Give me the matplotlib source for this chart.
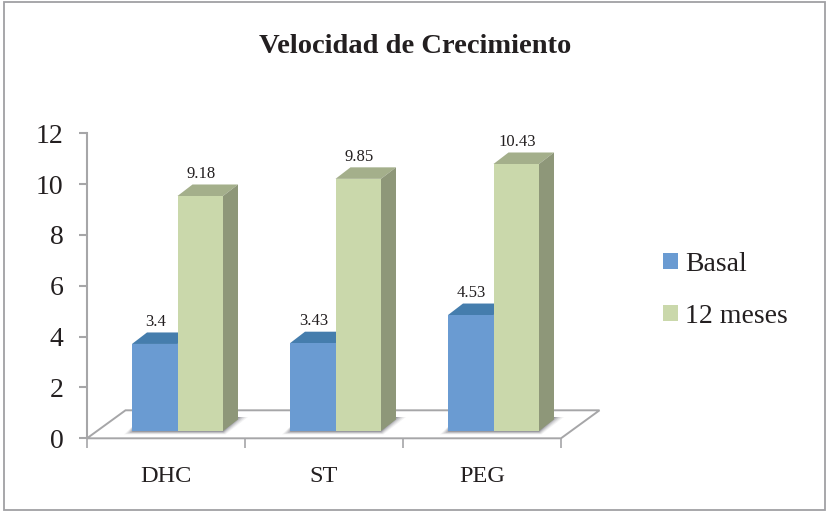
"""Velocidad de Crecimiento: fake-3D grouped columns drawn on a flat axes."""

import matplotlib

matplotlib.use("Agg")
import matplotlib.pyplot as plt
from matplotlib.patches import Patch, Polygon, Rectangle

categories = ["DHC", "ST", "PEG"]
basal = [3.4, 3.43, 4.53]
meses_12 = [9.18, 9.85, 10.43]
series_names = ["Basal", "12 meses"]
y_ticks = [0, 2, 4, 6, 8, 10, 12]

W, H = 826, 511
# pixel layout of the plot box
LEFT, RIGHT, TOP, BOTTOM = 87, 561, 133.3, 438.3
PX_X = (RIGHT - LEFT) / 3
PX_Y = (BOTTOM - TOP) / 12

BLUE, BLUE_TOP = "#6A9BD2", "#457DAD"
GREEN, GREEN_TOP, GREEN_SIDE = "#CAD8AB", "#A4AF8B", "#8E9779"
GRAY = "#A6A6A8"
TEXT = "#231F20"

plt.rcParams["font.family"] = ["Liberation Serif", "DejaVu Serif"]

fig = plt.figure(figsize=(W / 100, H / 100), dpi=100)
ax = fig.add_axes([LEFT / W, 1 - BOTTOM / H, (RIGHT - LEFT) / W, (BOTTOM - TOP) / H])
ax.set_xlim(0, 3)
ax.set_ylim(0, 12)
ax.patch.set_visible(False)

# depth offsets, in data units
floor_dx, floor_dy = 38.5 / PX_X, 28 / PX_Y
bar_dx, bar_dy = 15 / PX_X, 11.5 / PX_Y
bar_w = 45.5 / PX_X
bar_base = 7.3 / PX_Y
bar_shift = 11.5 / PX_X
bar_scale = 25.6 / PX_Y

# chart frame
fig.add_artist(Rectangle((4 / W, 1 - 510 / H), 821.3 / W, 508 / H, transform=fig.transFigure,
                         fill=False, edgecolor="#A0A0A4", linewidth=1.3))

# floor
ax.add_patch(Polygon([(0, 0), (3, 0), (3 + floor_dx, floor_dy), (floor_dx, floor_dy)],
                     closed=True, facecolor="white", edgecolor=GRAY, linewidth=1.4,
                     clip_on=False, zorder=1))


def draw_shadow(x0):
    # soft shadow on the floor, stacked translucent layers
    x1 = x0 + 2 * bar_w
    for grow, alpha in [(8, 0.07), (6, 0.10), (4, 0.14), (2, 0.20), (0, 0.28)]:
        g = grow / PX_X
        low = bar_base - (1 + grow * 0.3) / PX_Y
        pts = [(x0 - g, low), (x1 + g * 0.3, low),
               (x1 + (17 + grow) / PX_X, bar_base + 14 / PX_Y),
               (x1 + 12 / PX_X, bar_base + 14 / PX_Y), (x0 + 2 / PX_X, bar_base + 6 / PX_Y)]
        ax.add_patch(Polygon(pts, closed=True, facecolor="#555560", edgecolor="none",
                             alpha=alpha, clip_on=False, zorder=1.5))


def draw_column(x, value, front, top, side, z):
    h = value * bar_scale
    ax.bar(x, h, width=bar_w, bottom=bar_base, align="edge", color=front,
           linewidth=0, clip_on=False, zorder=z + 0.2)
    y1 = bar_base + h
    ax.add_patch(Polygon([(x, y1), (x + bar_w, y1), (x + bar_w + bar_dx, y1 + bar_dy),
                          (x + bar_dx, y1 + bar_dy)],
                         closed=True, facecolor=top, edgecolor="none", clip_on=False, zorder=z))
    ax.add_patch(Polygon([(x + bar_w, bar_base), (x + bar_w + bar_dx, bar_base + bar_dy),
                          (x + bar_w + bar_dx, y1 + bar_dy), (x + bar_w, y1)],
                         closed=True, facecolor=side, edgecolor="none", clip_on=False, zorder=z))
    ax.text(x + bar_w / 2 + 0.3 * bar_dx - 4 / PX_X, y1 + bar_dy + 2.5 / PX_Y, f"{value:g}",
            ha="center", va="bottom", fontsize=12, color=TEXT, zorder=6)


for i, cat in enumerate(categories):
    centre = i + 0.5 + bar_shift
    draw_shadow(centre - bar_w)
    draw_column(centre - bar_w, basal[i], BLUE, BLUE_TOP, BLUE_TOP, 3)
    draw_column(centre, meses_12[i], GREEN, GREEN_TOP, GREEN_SIDE, 4)

# axes
for name in ("top", "right", "bottom"):
    ax.spines[name].set_visible(False)
ax.spines["left"].set_color(GRAY)
ax.spines["left"].set_linewidth(1.5)
ax.spines["left"].set_zorder(2)
ax.set_yticks(y_ticks)
ax.tick_params(axis="y", length=6, width=1.5, color=GRAY, labelsize=20, labelcolor=TEXT, pad=11)
ax.set_xticks(range(4))
ax.set_xticklabels([])
ax.tick_params(axis="x", length=7, width=1.2, color=GRAY)
ax.set_xticks([i + 0.5 for i in range(3)], minor=True)
ax.set_xticklabels(categories, minor=True)
ax.tick_params(axis="x", which="minor", length=0, labelsize=17.5, labelcolor=TEXT, pad=20)

fig.text(415 / W, 1 - 46.5 / H, "Velocidad de Crecimiento", ha="center", va="center",
         fontsize=20.5, fontweight="bold", color=TEXT)

handles = [Patch(facecolor=BLUE, edgecolor="none"), Patch(facecolor=GREEN, edgecolor="none")]
fig.legend(handles, series_names, loc="upper left",
           bbox_to_anchor=(663 / W, 1 - 252 / H), frameon=False, fontsize=20,
           labelcolor=TEXT, handlelength=0.54, handleheight=0.54, handletextpad=0.25,
           labelspacing=0.97, borderpad=0, borderaxespad=0)

fig.savefig("out.png", dpi=100, facecolor="white")
plt.close(fig)
